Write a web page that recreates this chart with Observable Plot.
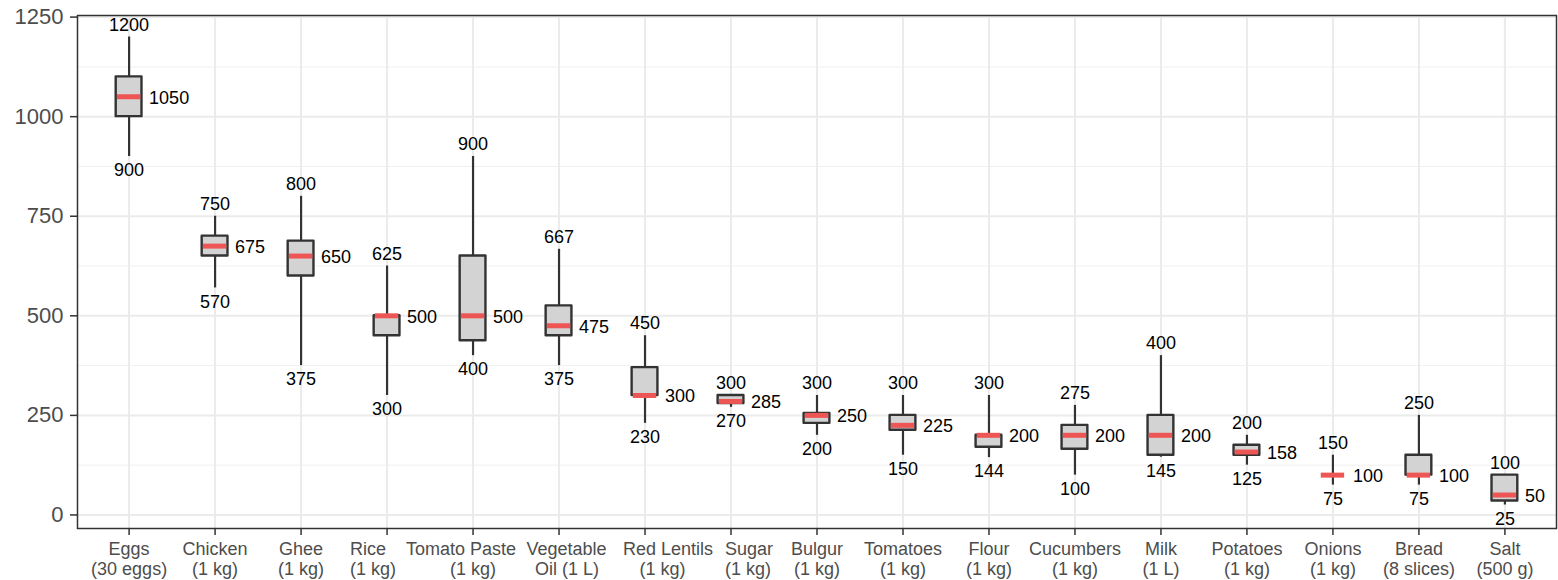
<!DOCTYPE html>
<html>
<head>
<meta charset="utf-8">
<script src="https://cdn.jsdelivr.net/npm/d3@7"></script>
<script src="https://cdn.jsdelivr.net/npm/@observablehq/plot@0.6"></script>
<style>
  html, body { margin: 0; padding: 0; background: #fff; }
  #chart { width: 1558px; height: 580px; }
</style>
</head>
<body>
<div id="chart"></div>
<script>
const names = ["Eggs","Chicken","Ghee","Rice","Tomato Paste","Vegetable Oil","Red Lentils","Sugar","Bulgur","Tomatoes","Flour","Cucumbers","Milk","Potatoes","Onions","Bread","Salt"];
const labelLine1 = ["Eggs","Chicken","Ghee","Rice","Tomato Paste","Vegetable","Red Lentils","Sugar","Bulgur","Tomatoes","Flour","Cucumbers","Milk","Potatoes","Onions","Bread","Salt"];
const labelLine2 = ["(30 eggs)","(1 kg)","(1 kg)","(1 kg)","(1 kg)","Oil (1 L)","(1 kg)","(1 kg)","(1 kg)","(1 kg)","(1 kg)","(1 kg)","(1 L)","(1 kg)","(1 kg)","(8 slices)","(500 g)"];
const mins    = [900, 570, 375, 300, 400,   375, 230, 270, 200, 150,   144, 100, 145, 125, 75,  75,  25];
const q1s     = [1000,650, 600, 450, 437.5, 450, 300, 280, 230, 212.5, 170, 165, 150, 150, 100, 100, 35];
const medians = [1050,675, 650, 500, 500,   475, 300, 285, 250, 225,   200, 200, 200, 158, 100, 100, 50];
const q3s     = [1100,700, 687.5,500, 650,  525, 370, 300, 255, 250,   200, 225, 250, 175, 100, 150, 100];
const maxs    = [1200,750, 800, 625, 900,   667, 450, 300, 300, 300,   300, 275, 400, 200, 150, 250, 100];
const majorTicks = [0, 250, 500, 750, 1000, 1250];
const minorTicks = [125, 375, 625, 875, 1125];

const rows = names.map((n, i) => ({name: n, min: mins[i], q1: q1s[i], median: medians[i], q3: q3s[i], max: maxs[i]}));

// horizontal nudges (px) of some category labels, as placed in the original to avoid overlaps
const nudge1 = new Map([["Rice", -19], ["Tomato Paste", -12], ["Vegetable Oil", 7.5], ["Red Lentils", 23], ["Sugar", 18]]);
const nudge2 = new Map([["Rice", -14], ["Vegetable Oil", 8], ["Red Lentils", 17.5], ["Sugar", 17]]);
const lab1 = names.map((n, i) => ({name: n, text: labelLine1[i], off: nudge1.get(n) || 0}));
const lab2 = names.map((n, i) => ({name: n, text: labelLine2[i], off: nudge2.get(n) || 0}));
const labelMarks = (labs, dy) => Array.from(new Set(labs.map(d => d.off))).map(off =>
  Plot.text(labs.filter(d => d.off === off), {
    x: "name", text: "text", frameAnchor: "bottom", lineAnchor: "top",
    dx: off, dy, fill: "#4D4D4D", fontSize: 18
  }));

const dark = "#333333";
const red = "#EE5555";

const chart = Plot.plot({
  width: 1558,
  height: 580,
  marginLeft: 77,
  marginRight: 2,
  marginTop: 15,
  marginBottom: 52,
  style: {fontFamily: "'Liberation Sans', Arial, sans-serif", fontSize: "18px", background: "#fff"},
  x: {type: "band", domain: names, paddingInner: 0.7, paddingOuter: 0.45, round: false, label: null},
  y: {domain: [-34, 1254], label: null},
  marks: [
    Plot.ruleY(minorTicks, {stroke: "#F0F0F0", strokeWidth: 1}),
    Plot.ruleY(majorTicks, {stroke: "#EBEBEB", strokeWidth: 2}),
    Plot.ruleX(names, {x: d => d, stroke: "#EBEBEB", strokeWidth: 2}),
    Plot.ruleX(rows, {x: "name", y1: "min", y2: "max", stroke: dark, strokeWidth: 2.2}),
    Plot.barY(rows, {x: "name", y1: "q1", y2: "q3", fill: "#D3D3D3", stroke: dark, strokeWidth: 2.4, strokeLinejoin: "round"}),
    Plot.tickY(rows, {x: "name", y: "median", stroke: red, strokeWidth: 5, insetLeft: 1.2, insetRight: 1.2}),
    Plot.text(rows, {x: "name", y: "max", text: d => String(d.max), dy: -12, fill: "#000", fontSize: 18}),
    Plot.text(rows, {x: "name", y: "min", text: d => String(d.min), dy: 14, fill: "#000", fontSize: 18}),
    Plot.text(rows, {x: "name", y: "median", text: d => String(d.median), dx: 20, dy: 1, textAnchor: "start", fill: "#000", fontSize: 18}),
    Plot.frame({stroke: dark, strokeWidth: 1.5}),
    Plot.axisY({ticks: majorTicks, tickFormat: d => String(d), label: null, tickSize: 7, tickPadding: 7, fontSize: 22, stroke: dark, fill: "#4D4D4D", strokeWidth: 1.5}),
    Plot.axisX({tickFormat: () => null, label: null, tickSize: 7, stroke: dark, strokeWidth: 1.5}),
    ...labelMarks(lab1, 14),
    ...labelMarks(lab2, 33.5)
  ]
});
document.getElementById("chart").appendChild(chart);
</script>
</body>
</html>
